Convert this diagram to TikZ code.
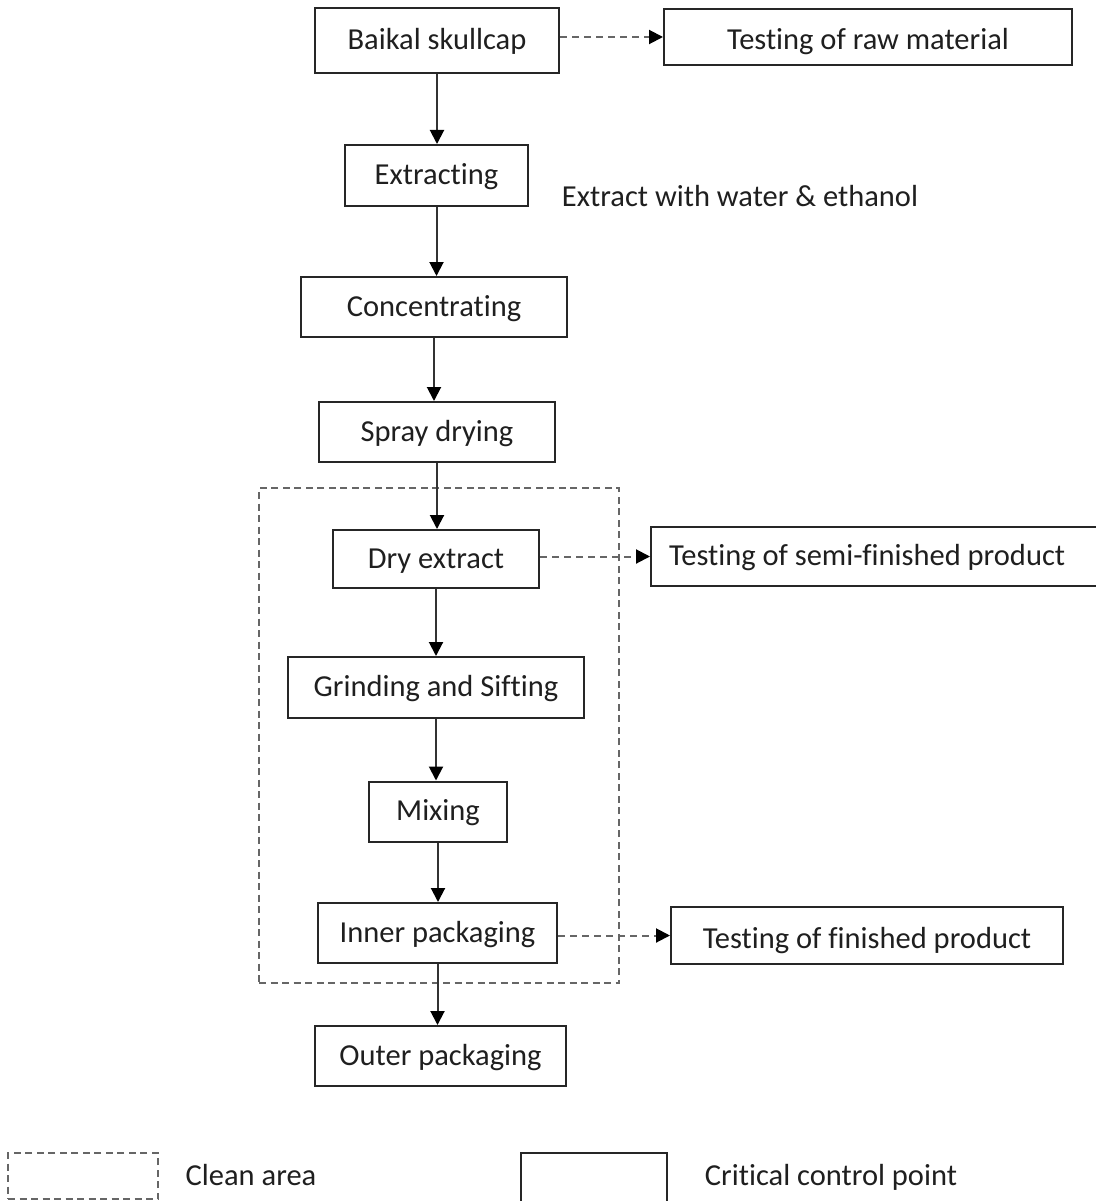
\documentclass[tikz,border=0pt]{standalone}
\usepackage{fontspec}
\setmainfont[Ligatures={NoCommon}]{Carlito}
\usetikzlibrary{arrows.meta}
\begin{document}
\begin{tikzpicture}[x=1pt,y=-1pt,
  font=\fontsize{30.5}{36}\selectfont,
  every node/.style={text=black!88, text height=24pt, text depth=6pt, inner sep=0pt},
  box/.style={draw=black!85, line width=2pt, fill=white},
  cleanbox/.style={draw=black!60, line width=2pt, dash pattern=on 7pt off 4.5pt},
  arr/.style={draw=black!80, line width=2pt, -{Triangle[length=14pt,width=14pt,color=black]}},
  darr/.style={draw=black!60, line width=2pt, dash pattern=on 7pt off 5pt, -{Triangle[length=14pt,width=14pt,color=black]}},
  low/.style={text height=32pt}]
\useasboundingbox (0,0) rectangle (1095,1201);
\fill[white] (0,0) rectangle (1095,1201);

% clean area
\node[cleanbox, minimum width=360pt, minimum height=495pt] (clean) at (439,735.5) {};

% main chain
\node[box, minimum width=244pt, minimum height=65pt] (baikal) at (437,40.5) {Baikal skullcap};
\node[box, minimum width=183pt, minimum height=61pt] (extr) at (436.5,175.5) {Extracting};
\node[box, minimum width=266pt, minimum height=60pt] (conc) at (434,307) {Concentrating};
\node[box, minimum width=236pt, minimum height=60pt] (spray) at (437,432) {Spray drying};
\node[box, minimum width=206pt, minimum height=58pt] (dry) at (436,559) {Dry extract};
\node[box, minimum width=296pt, minimum height=61pt] (grind) at (436,687.5) {Grinding and Sifting};
\node[box, minimum width=138pt, minimum height=60pt] (mix) at (438,811.5) {Mixing};
\node[box, minimum width=239pt, minimum height=60pt] (inner) at (437.5,933) {Inner packaging};
\node[box, minimum width=251pt, minimum height=60pt] (outer) at (440.5,1056) {Outer packaging};

% testing boxes
\node[box, low, minimum width=408pt, minimum height=56pt] (traw) at (868,37) {Testing of raw material};
\node[box, minimum width=460pt, minimum height=59pt, anchor=west] (tsemi) at (650,556.5) {};
\node[anchor=west] (tsemitxt) at ([xshift=19pt]tsemi.west) {Testing of semi-finished product};
\node[box, low, minimum width=392pt, minimum height=57pt] (tfin) at (867,935.5) {Testing of finished product};

% side note
\node (note) at (740,198) {Extract with water \& ethanol};

% solid arrows
\draw[arr] (baikal.south) -- (baikal.south |- extr.north);
\draw[arr] (extr.south) -- (extr.south |- conc.north);
\draw[arr] (conc.south) -- (conc.south |- spray.north);
\draw[arr] (spray.south) -- (spray.south |- dry.north);
\draw[arr] (dry.south) -- (dry.south |- grind.north);
\draw[arr] (grind.south) -- (grind.south |- mix.north);
\draw[arr] (mix.south) -- (mix.south |- inner.north);
\draw[arr] (inner.south) -- (inner.south |- outer.north);

% dashed arrows
\draw[darr] (baikal.east |- traw.west) -- (traw.west);
\draw[darr] (dry.east |- tsemi.west) -- (tsemi.west);
\draw[darr] (inner.east |- tfin.west) -- (tfin.west);

% legend
\node[cleanbox, minimum width=150pt, minimum height=46pt] (legclean) at (83,1176) {};
\node (legcleantxt) at (251,1176) {Clean area};
\node[box, minimum width=146pt, minimum height=49pt] (legccp) at (594,1177.5) {};
\node (legccptxt) at (831,1176) {Critical control point};
\end{tikzpicture}
\end{document}
